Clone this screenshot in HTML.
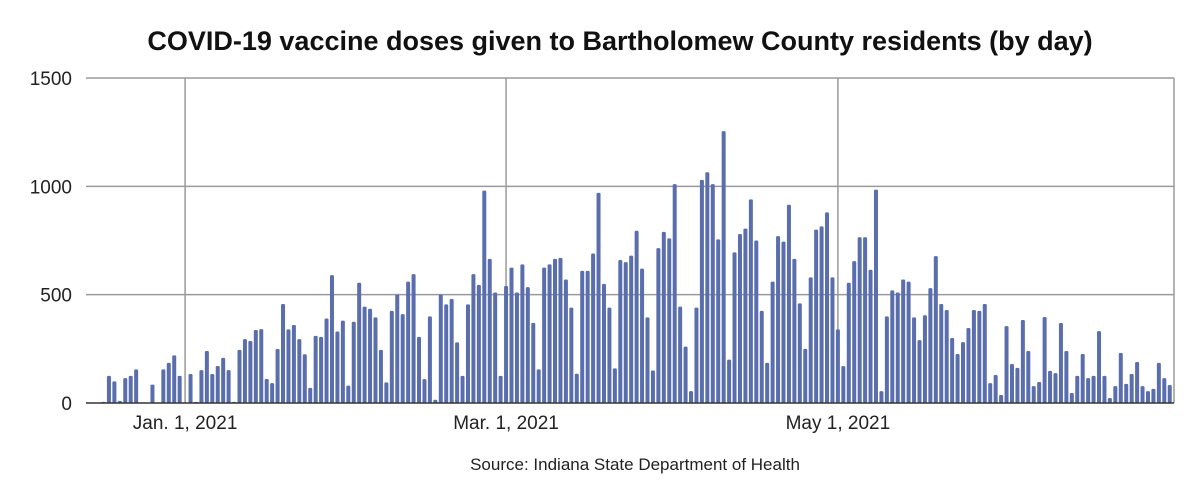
<!DOCTYPE html>
<html><head><meta charset="utf-8"><style>
body{margin:0;background:#fff;width:1200px;height:497px;overflow:hidden;font-family:"Liberation Sans",sans-serif}
</style></head><body>
<svg id="chart" width="1200" height="497" xmlns="http://www.w3.org/2000/svg">
<text x="620" y="50" text-anchor="middle" font-size="27" font-weight="bold" fill="#111">COVID-19 vaccine doses given to Bartholomew County residents (by day)</text>
<g id="grid"></g>
<g id="bars"></g>
<g id="axes"></g>
<text x="635" y="470" text-anchor="middle" font-size="17" fill="#222">Source: Indiana State Department of Health</text>
</svg>
<script>
const values = [5,125,100,10,115,125,155,0,0,85,0,155,185,220,125,0,134,5,152,240,134,171,208,152,5,245,295,286,337,341,111,92,249,457,340,360,295,225,70,310,305,390,590,330,380,80,375,555,445,435,395,245,95,425,500,410,560,595,305,110,400,15,500,455,480,280,125,455,595,545,980,665,510,125,540,625,510,640,535,370,155,625,640,665,670,570,440,135,610,610,690,970,550,440,160,660,650,680,795,620,395,150,715,790,760,1010,445,260,55,440,1030,1065,1010,755,1255,200,695,780,805,940,750,425,185,560,770,745,915,665,460,250,580,800,815,880,580,340,170,555,655,765,765,615,985,55,400,520,510,570,560,395,290,405,530,678,457,429,300,226,281,346,429,425,457,92,129,37,355,180,162,383,240,78,97,397,148,138,369,240,46,125,226,115,125,332,125,23,78,231,88,134,189,78,55,65,185,115,83];
const yTicks = [0,500,1000,1500];
const xTickLabels = ["Jan. 1, 2021","Mar. 1, 2021","May 1, 2021"];
const xTickIndex = [15,74,135];

const X0=103.5, DX=5.44, Y0=403, YT=78, YMAX=1500, LEFT=86, RIGHT=1174;
function xs(i){return X0+i*DX;}
function ys(v){return Y0-(v/YMAX)*(Y0-YT);}
const NS="http://www.w3.org/2000/svg";
function mk(tag,attrs,parent){const e=document.createElementNS(NS,tag);for(const k in attrs)e.setAttribute(k,attrs[k]);parent.appendChild(e);return e;}
const grid=document.getElementById('grid'),bars=document.getElementById('bars'),axes=document.getElementById('axes');
yTicks.forEach((t,i)=>{
  if(t>0){const l=mk('line',{x1:LEFT,x2:RIGHT,y1:ys(t),y2:ys(t),stroke:'#9a9a9a','stroke-width':1.5},grid);
  
  }
  const tx=mk('text',{x:72,y:ys(t)+7,'text-anchor':'end','font-size':19,fill:'#222'},axes);
  tx.textContent=t;
  
  
});
xTickIndex.forEach((d,i)=>{
  const l=mk('line',{x1:xs(d),x2:xs(d),y1:YT,y2:Y0,stroke:'#9a9a9a','stroke-width':1.5},grid);
  
  
  const tx=mk('text',{x:xs(d),y:429,'text-anchor':'middle','font-size':19,fill:'#222'},axes);
  tx.textContent=xTickLabels[i];
  
  
});
const rb=mk('line',{x1:RIGHT,x2:RIGHT,y1:YT,y2:Y0,stroke:'#9a9a9a','stroke-width':1.5},grid);


values.forEach((v,i)=>{
  if(v<=0)return;
  const y=ys(v);
  const r=mk('rect',{x:xs(i)-2,y:y,width:4,height:Y0-y,rx:1.2,fill:'#5a6ead'},bars);
  
  
});
const base=mk('line',{x1:LEFT,x2:RIGHT,y1:Y0,y2:Y0,stroke:'#333','stroke-width':1.5},axes);


</script>
</body></html>
